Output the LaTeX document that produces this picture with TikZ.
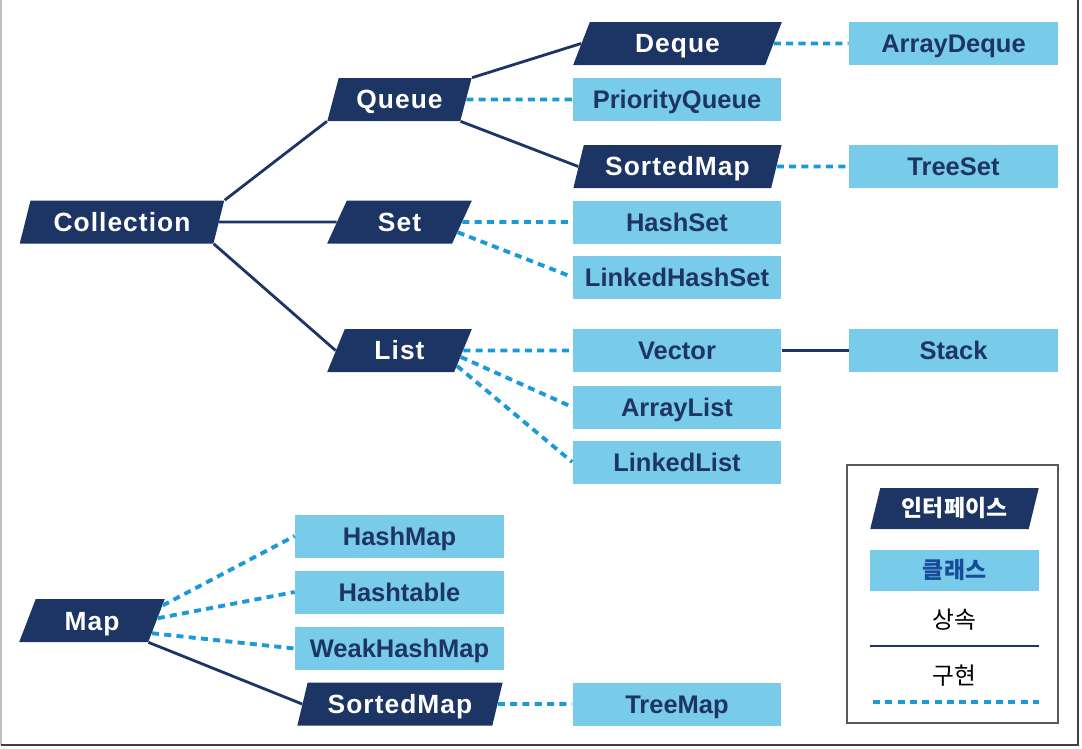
\documentclass[tikz,border=0pt]{standalone}
\usepackage{fontspec}
\setmainfont{Liberation Sans}
\newfontfamily\ifacefont[LetterSpace=4]{Liberation Sans}
\newfontfamily\krfont{Noto Sans CJK KR}
\usetikzlibrary{shapes.geometric}
\definecolor{navy}{HTML}{1C3564}
\definecolor{lblue}{HTML}{79CBEA}
\definecolor{dblue}{HTML}{1A9AD6}
\definecolor{ctext}{HTML}{1E3464}
\definecolor{ktext}{HTML}{1A4A9A}
\tikzset{
  iface/.style={trapezium, trapezium left angle=67, trapezium right angle=113,
    trapezium stretches=true, fill=navy, text=white, minimum height=0.86cm,
    inner sep=0pt, text height=10.8pt, text depth=0pt,
    font=\ifacefont\bfseries\fontsize{15}{18}\selectfont},
  cls/.style={rectangle, fill=lblue, text=ctext, minimum width=4.18cm,
    minimum height=0.86cm, inner sep=0pt, text height=10.4pt, text depth=0pt,
    font=\bfseries\fontsize{14.5}{17}\selectfont},
  inh/.style={draw=navy, line width=1.6pt},
  impl/.style={draw=dblue, line width=2.2pt, dash pattern=on 4pt off 3pt},
}
\begin{document}
\begin{tikzpicture}[x=0.02cm, y=-0.02cm]
\useasboundingbox (0,0) rectangle (1082,748);
\draw[black!25, line width=1pt] (1,0) -- (1,745);
\draw[black!75, line width=1.2pt] (1078,0) -- (1078,745) -- (1,745);
% interfaces
\node[iface, minimum width=4.12cm] (coll) at (122,222) {Collection};
\node[iface, minimum width=2.9cm] (queue) at (399.5,99.5) {Queue};
\node[iface, minimum width=2.9cm] (set) at (399.5,222) {Set};
\node[iface, minimum width=2.9cm] (list) at (399.5,350.5) {List};
\node[iface, minimum width=4.18cm] (deque) at (677.5,43.5) {Deque};
\node[iface, minimum width=4.18cm] (smapA) at (677.5,166.5) {SortedMap};
\node[iface, minimum width=2.92cm] (map) at (92,620.5) {Map};
\node[iface, minimum width=4.12cm] (smapB) at (400,704) {SortedMap};
% classes
\node[cls] (adeque) at (953.5,43.5) {ArrayDeque};
\node[cls] (pqueue) at (677,99.5) {PriorityQueue};
\node[cls] (tset) at (953.5,166.5) {TreeSet};
\node[cls] (hset) at (677,222) {HashSet};
\node[cls] (lhset) at (677,277) {LinkedHashSet};
\node[cls] (vec) at (677,350.5) {Vector};
\node[cls] (stack) at (953.5,350.5) {Stack};
\node[cls] (alist) at (677,407) {ArrayList};
\node[cls] (llist) at (677,462) {LinkedList};
\node[cls] (hmap) at (399.5,536) {HashMap};
\node[cls] (htable) at (399.5,592) {Hashtable};
\node[cls] (whmap) at (399.5,648.5) {WeakHashMap};
\node[cls] (tmap) at (677,704) {TreeMap};
% inheritance
\draw[inh] (coll.top right corner) -- (queue.bottom left corner);
\draw[inh] (coll.east) -- (set.west);
\draw[inh] (coll.bottom right corner) -- (list.west);
\draw[inh] (queue.top right corner) -- (deque.west);
\draw[inh] (queue.bottom right corner) -- (smapA.west);
\draw[inh] (vec.east) -- (stack.west);
\draw[inh] (map.bottom right corner) -- (smapB.west);
% implementation
\draw[impl] (deque.east) -- (adeque.west);
\draw[impl] (queue.east) -- (pqueue.west);
\draw[impl] (smapA.east) -- (tset.west);
\draw[impl] (set.east) -- (hset.west);
\draw[impl] (set.-10) -- (lhset.west);
\draw[impl] (list.east) -- (vec.west);
\draw[impl] (list.-6) -- (alist.west);
\draw[impl] (list.-15) -- (llist.west);
\draw[impl] (map.12) -- (hmap.west);
\draw[impl] (map.2) -- (htable.west);
\draw[impl] (map.-12) -- (whmap.west);
\draw[impl] (smapB.east) -- (tmap.west);
% legend
\draw[black!65, line width=1.2pt] (847,465) rectangle (1058,723);
\node[iface, minimum width=3.38cm, minimum height=0.82cm, text height=9.5pt, font=\krfont\bfseries\fontsize{13}{16}\selectfont] (lgiface) at (954.5,508.5) {인터페이스};
\node[cls, minimum width=3.38cm, minimum height=0.82cm, text height=9.5pt, text=ktext, font=\krfont\bfseries\fontsize{13}{16}\selectfont] (lgcls) at (954.5,570.5) {클래스};
\node[font=\krfont\fontsize{13.5}{16}\selectfont] (lginh) at (954.5,620) {상속};
\node[font=\krfont\fontsize{13.5}{16}\selectfont] (lgimpl) at (954.5,676) {구현};
\coordinate (inhA) at (870,646);
\coordinate (inhB) at (1039,646);
\coordinate (implA) at (873,702);
\coordinate (implB) at (1039,702);
\draw[inh] (inhA) -- (inhB);
\draw[impl] (implA) -- (implB);
\end{tikzpicture}
\end{document}
